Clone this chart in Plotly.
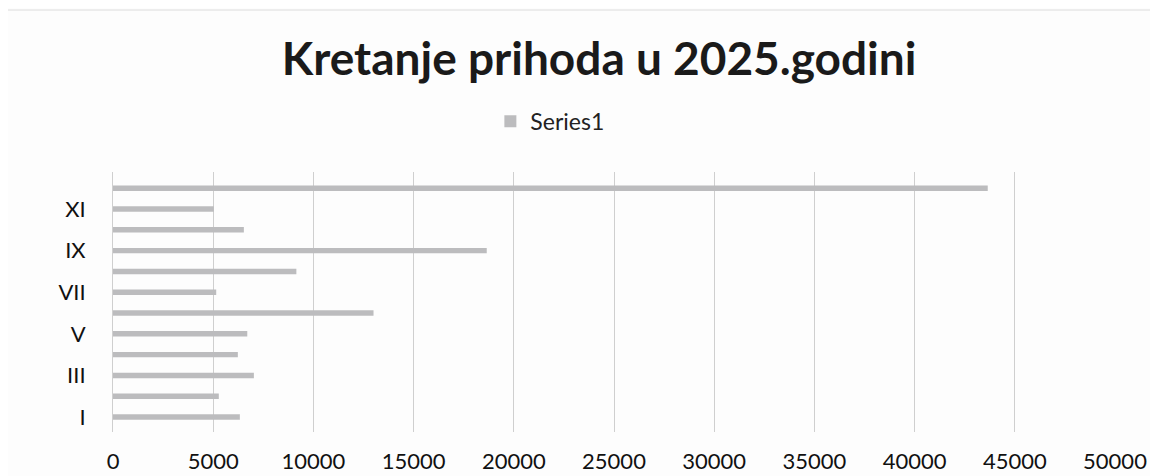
import plotly.graph_objects as go

months = ["I", "II", "III", "IV", "V", "VI", "VII", "VIII", "IX", "X", "XI", "XII"]
values = [6330, 5280, 7030, 6230, 6700, 13000, 5150, 9150, 18650, 6530, 5030, 43650]
shown_ticks = ["I", "III", "V", "VII", "IX", "XI"]
x_ticks = list(range(0, 50001, 5000))

fig = go.Figure()
fig.add_trace(go.Bar(
    y=months, x=values, orientation="h", name="Series1",
    marker=dict(color="#bcbcbe", line=dict(width=0)),
    showlegend=True,
))

fig.update_layout(
    width=1150, height=468,
    paper_bgcolor="#fdfdfd", plot_bgcolor="#fdfdfd",
    margin=dict(l=105, r=43, t=164, b=44, autoexpand=False),
    bargap=0.74,
    font=dict(family="Lato, Open Sans, sans-serif", color="#111111"),
    title=dict(text="<b>Kretanje prihoda u 2025.godini</b>", x=0.514, xanchor="center",
               y=0.892, yanchor="middle", font=dict(size=46, color="#1a1a1a")),
    legend=dict(orientation="h", x=0.436, xanchor="center", y=1.195, yanchor="middle",
                font=dict(size=23, color="#222222"), itemwidth=30),
    xaxis=dict(range=[0, 50000], tickvals=x_ticks, ticktext=[str(v) for v in x_ticks],
               showgrid=True, gridcolor="#cfcfcf", gridwidth=1, zeroline=False,
               tickfont=dict(size=22), ticks="", ticklabelstandoff=14,
               showline=False, automargin=False),
    yaxis=dict(categoryorder="array", categoryarray=months, tickvals=shown_ticks,
               tickfont=dict(size=22), ticks="", showgrid=False, showline=True,
               linecolor="#cfcfcf", linewidth=1, ticklabelstandoff=22,
               range=[-0.72, 11.78], automargin=False),
    shapes=[dict(type="rect", xref="paper", yref="paper", x0=-0.108, x1=1.2,
                 y0=-0.3, y1=1.623, line=dict(color="#dcdcdc", width=1))],
)

fig.write_html("out.html")
